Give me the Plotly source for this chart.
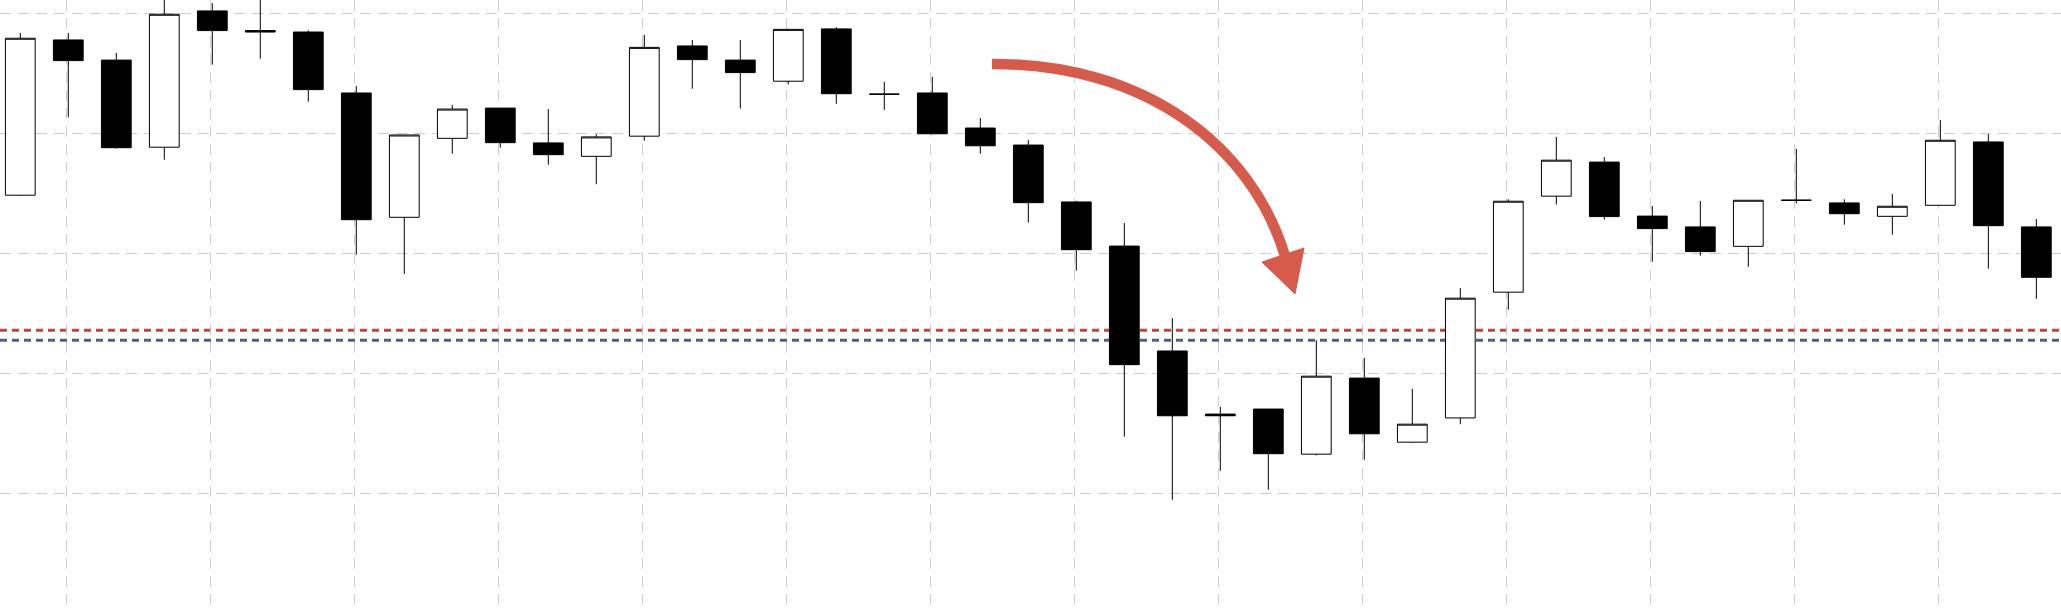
import plotly.graph_objects as go

# ---- data ----
bars = list(range(43))
opens = [1.09242, 1.09889, 1.09805, 1.09442, 1.10010, 1.09928, 1.09922, 1.09668, 1.09150, 1.09479,
         1.09605, 1.09460, 1.09404, 1.09488, 1.09864, 1.09805, 1.09717, 1.09935, 1.09663, 1.09668,
         1.09522, 1.09451, 1.09214, 1.09030, 1.08593, 1.08330, 1.08351, 1.08163, 1.08480, 1.08213,
         1.08314, 1.08838, 1.09238, 1.09380, 1.09155, 1.09110, 1.09029, 1.09221, 1.09210, 1.09154,
         1.09200, 1.09464, 1.09110]
highs = [1.09918, 1.09918, 1.09835, 1.10076, 1.10042, 1.10089, 1.09929, 1.09697, 1.09493, 1.09618,
         1.09605, 1.09601, 1.09496, 1.09910, 1.09889, 1.09889, 1.09935, 1.09942, 1.09714, 1.09735,
         1.09564, 1.09472, 1.09218, 1.09126, 1.08730, 1.08360, 1.08351, 1.08638, 1.08564, 1.08435,
         1.08855, 1.09225, 1.09485, 1.09401, 1.09197, 1.09218, 1.09221, 1.09435, 1.09225, 1.09247,
         1.09555, 1.09497, 1.09143]
lows = [1.09240, 1.09567, 1.09436, 1.09390, 1.09786, 1.09811, 1.09632, 1.08994, 1.08914, 1.09415,
        1.09440, 1.09369, 1.09288, 1.09469, 1.09686, 1.09603, 1.09704, 1.09623, 1.09598, 1.09496,
        1.09415, 1.09128, 1.08928, 1.08236, 1.07973, 1.08094, 1.08015, 1.08158, 1.08140, 1.08210,
        1.08288, 1.08765, 1.09203, 1.09140, 1.08965, 1.08990, 1.08944, 1.09208, 1.09119, 1.09078,
        1.09198, 1.08936, 1.08810]
closes = [1.09896, 1.09803, 1.09440, 1.09996, 1.09928, 1.09922, 1.09682, 1.09140, 1.09493, 1.09601,
          1.09461, 1.09411, 1.09485, 1.09858, 1.09807, 1.09753, 1.09933, 1.09665, 1.09663, 1.09498,
          1.09448, 1.09211, 1.09015, 1.08536, 1.08323, 1.08323, 1.08165, 1.08488, 1.08248, 1.08288,
          1.08813, 1.09217, 1.09388, 1.09153, 1.09103, 1.09007, 1.09221, 1.09221, 1.09165, 1.09196,
          1.09471, 1.09115, 1.08900]

resistance_level = 1.08679
support_level = 1.08638

price_grid = [1.080, 1.085, 1.090, 1.095, 1.100]
time_grid = [i - 0.0375 for i in range(1, 43, 3)]

# ---- figure ----
fig = go.Figure()
fig.add_trace(go.Candlestick(
    x=bars, open=opens, high=highs, low=lows, close=closes,
    increasing=dict(line=dict(color="black", width=1), fillcolor="white"),
    decreasing=dict(line=dict(color="black", width=1), fillcolor="black"),
    whiskerwidth=0,
    hoverinfo="skip",
    showlegend=False,
))

fig.add_shape(type="line", xref="paper", x0=0, x1=1, yref="y",
              y0=resistance_level, y1=resistance_level, layer="between",
              line=dict(color="#b84840", width=3, dash="7px,5px"))
fig.add_shape(type="line", xref="paper", x0=0, x1=1, yref="y",
              y0=support_level, y1=support_level, layer="between",
              line=dict(color="#52607a", width=3, dash="7px,5px"))

# curved arrow (decoration, in page-fraction coordinates)
W, H = 2061.0, 611.0
def P(px, py):
    return f"{px / W:.5f},{1 - py / H:.5f}"

shaft = f"M{P(992, 64)} C{P(1145, 63)} {P(1252, 146)} {P(1285, 256)}"
head = f"M{P(1262, 262)} L{P(1304, 248)} L{P(1295, 294)} Z"
arrow_color = "#d65b4a"
fig.add_shape(type="path", xref="paper", yref="paper", path=shaft,
              line=dict(color=arrow_color, width=10.5), layer="above")
fig.add_shape(type="path", xref="paper", yref="paper", path=head,
              line=dict(color=arrow_color, width=1), fillcolor=arrow_color, layer="above")

fig.update_layout(
    width=2061, height=611,
    margin=dict(l=0, r=0, t=0, b=0),
    paper_bgcolor="white", plot_bgcolor="white",
    boxgap=0.38, boxgroupgap=0,
    showlegend=False,
    xaxis=dict(range=[-0.423, 42.514], tickmode="array", tickvals=time_grid,
               showticklabels=False, showgrid=True, gridcolor="#cccccc", gridwidth=1,
               griddash="11px,7px", zeroline=False, showline=False,
               rangeslider=dict(visible=False), fixedrange=True),
    yaxis=dict(range=[1.075096, 1.100554], tickmode="array", tickvals=price_grid,
               showticklabels=False, showgrid=True, gridcolor="#cccccc", gridwidth=1,
               griddash="11px,7px", zeroline=False, showline=False, fixedrange=True),
)

fig.write_html("out.html", config={"displayModeBar": False},
               post_script="document.body.style.margin='0';document.body.style.overflow='hidden';")
